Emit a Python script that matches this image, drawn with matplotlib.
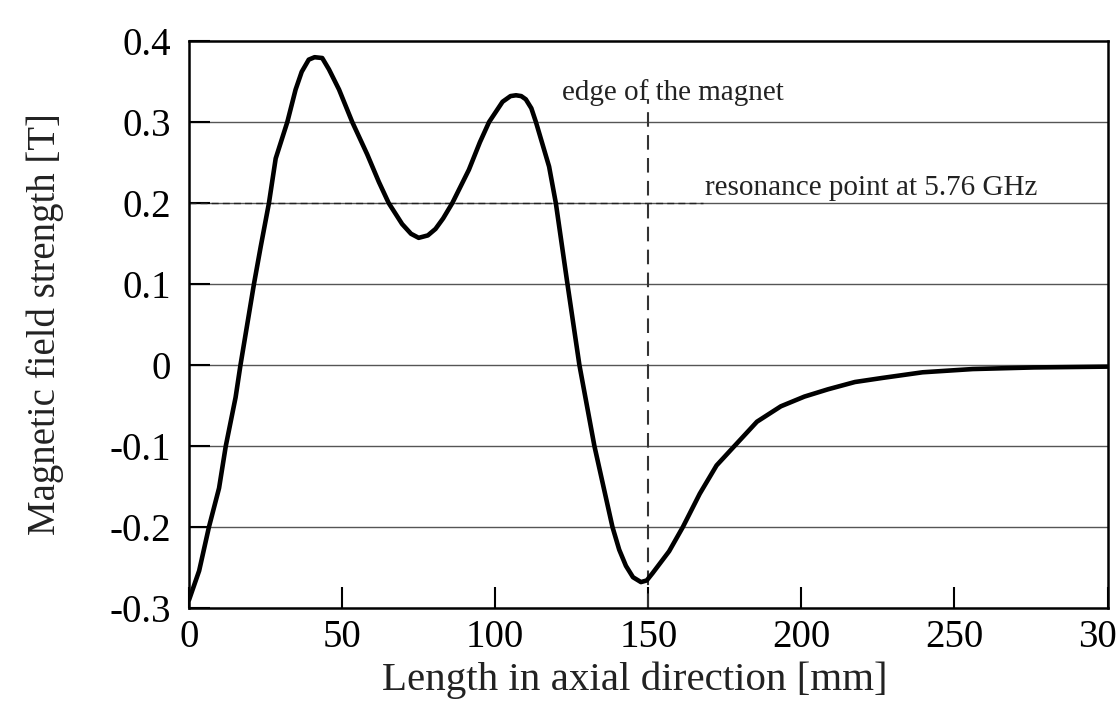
import matplotlib.pyplot as plt

plt.rcParams['font.family'] = ['Liberation Serif', 'DejaVu Serif']

# axial position [mm] and field [T]
length_mm = [0, 3.3, 6.5, 9.8, 12, 15.2, 16.8, 19, 21.2, 23.4, 26.1, 28.3, 32.1,
             34.8, 36.8, 39.1, 41, 43.5, 45.7, 49, 53.3, 58.2, 62, 65.2, 69.6,
             72.5, 75, 78, 80.5, 83, 86, 91.4, 95, 98, 102.4, 105, 106.8, 108.5,
             110, 111.8, 113.3, 117.6, 119.8, 123.6, 127.5, 132.4, 138.3, 140.5,
             142.7, 145, 147.6, 149.5, 151.4, 154, 156.8, 161.3, 166.8, 172.3,
             178.4, 185.5, 193.3, 201, 208.7, 217.5, 226.4, 239.6, 256, 276, 300]
field_T = [-0.29, -0.254, -0.2, -0.152, -0.1, -0.04, 0, 0.05, 0.1, 0.146, 0.2,
           0.255, 0.3, 0.34, 0.362, 0.377, 0.38, 0.379, 0.365, 0.34, 0.3, 0.26,
           0.226, 0.2, 0.174, 0.162, 0.157, 0.16, 0.168, 0.181, 0.2, 0.241,
           0.275, 0.3, 0.325, 0.332, 0.333, 0.332, 0.328, 0.317, 0.3, 0.245, 0.2,
           0.1, 0, -0.1, -0.2, -0.228, -0.248, -0.262, -0.268, -0.266, -0.257,
           -0.244, -0.23, -0.2, -0.159, -0.124, -0.099, -0.07, -0.051, -0.039,
           -0.03, -0.021, -0.016, -0.009, -0.005, -0.003, -0.002]

magnet_edge = 150
resonance_field = 0.2
resonance_end = 168

fig = plt.figure(figsize=(11.16, 7.22), dpi=100)
ax = fig.add_axes([0.1694, 0.1579, 0.8230, 0.7853])

for y in [-0.2, -0.1, 0, 0.1, 0.2, 0.3]:
    ax.axhline(y, color='#555555', lw=1.0, zorder=1)

ax.plot([0, resonance_end], [resonance_field, resonance_field], color='#222222',
        lw=1.0, dashes=(5, 3), zorder=2)
ax.plot([magnet_edge, magnet_edge], [-0.3, 0.328], color='#333333', lw=1.5,
        dashes=(7, 4), zorder=2)

ax.plot(length_mm, field_T, color='black', lw=3.3, zorder=3,
        solid_joinstyle='round', solid_capstyle='round')

ax.text(158, 0.336, 'edge of the magnet', fontsize=21, ha='center', va='center',
        color='#222222')
ax.text(168.6, 0.202, 'resonance point at 5.76 GHz', fontsize=21, ha='left',
        va='bottom', color='#222222')

ax.set_xlim(0, 300)
ax.set_ylim(-0.3, 0.4)
ax.set_xticks([0, 50, 100, 150, 200, 250, 300])
ax.set_yticks([-0.3, -0.2, -0.1, 0, 0.1, 0.2, 0.3, 0.4])
ax.set_yticklabels(['-0.3', '-0.2', '-0.1', '0', '0.1', '0.2', '0.3', '0.4'])
ax.tick_params(direction='in', length=15, width=1.5, labelsize=28, pad=8)
ax.tick_params(axis='y', pad=13)
for s in ax.spines.values():
    s.set_linewidth(1.8)

ax.set_xlabel('Length in axial direction [mm]', fontsize=29.5, color='#222222')
ax.xaxis.set_label_coords(0.485, -0.094)
ax.set_ylabel('Magnetic field strength [T]', fontsize=28, color='#222222')
ax.yaxis.set_label_coords(-0.136, 0.5)

fig.savefig('out.png', dpi=100)
